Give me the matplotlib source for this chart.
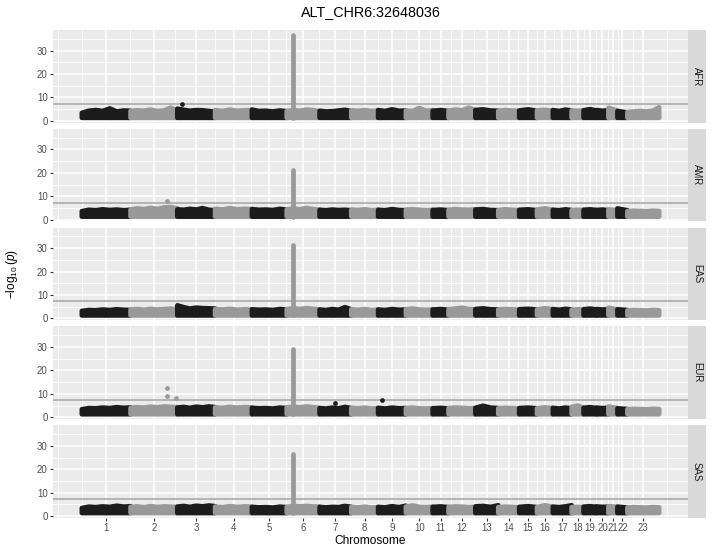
import matplotlib
matplotlib.use('Agg')
import matplotlib.pyplot as plt
import numpy as np

plt.rcParams['font.family'] = ['Liberation Sans', 'DejaVu Sans']
plt.rcParams['mathtext.fontset'] = 'custom'
plt.rcParams['mathtext.rm'] = 'Liberation Sans'
plt.rcParams['mathtext.it'] = 'Liberation Sans:italic'

# ---------------- data ----------------
title = "ALT_CHR6:32648036"
populations = ["AFR", "AMR", "EAS", "EUR", "SAS"]
chromosomes = [str(i) for i in range(1, 24)]
chrom_span_mb = [249, 239, 193, 188, 178, 168, 162, 137, 142, 137, 81, 137,
                 117, 107, 91, 81, 96, 61, 66, 61, 46, 51, 162]

lead_chrom = "6"
lead_pos_mb = 32.648036
lead_logp = [36.8, 21.0, 31.3, 29.1, 26.5]          # per population
gw_threshold = -np.log10(5e-8)
base_logp = 1.3                                     # lowest plotted -log10(p)

# upper envelope of the background -log10(p) cloud, per chromosome
afr_tops = [
    [3.4, 4.3, 4.6, 4.2, 5.3, 4.0, 4.4, 4.3], [4.2, 4.5, 4.3, 4.8, 4.2, 4.4, 5.6, 4.5],
    [5.2, 4.7, 4.3, 4.6, 4.5, 4.2, 3.9], [4.6, 4.2, 4.8, 4.3, 4.5, 4.6],
    [4.8, 4.2, 4.3, 4.0, 4.4, 4.1], [4.2, 4.6, 4.3, 4.8, 4.6, 4.0],
    [4.3, 4.0, 4.1, 4.4, 4.7, 4.2], [4.5, 4.3, 4.6, 4.2, 4.4],
    [4.6, 4.2, 4.9, 4.3, 4.4], [4.4, 4.2, 5.5, 4.3, 4.6], [4.3, 4.6, 4.2],
    [4.4, 4.8, 4.5, 5.6, 4.6], [4.6, 4.9, 4.4, 4.3], [4.2, 4.6, 4.4, 4.3],
    [4.4, 4.9, 4.3], [4.5, 4.7, 4.3], [4.6, 4.2, 4.8, 4.4], [4.4, 4.3, 4.5],
    [4.5, 5.0, 4.4], [4.6, 4.3, 4.5], [5.6, 4.4], [4.2, 3.6],
    [3.8, 4.0, 4.2, 4.0, 4.3, 5.8]]
amr_tops = [
    [3.6, 4.2, 4.0, 4.4, 4.1, 4.3, 4.0, 4.2], [4.3, 4.8, 4.5, 5.0, 4.6, 5.2, 5.4, 4.8],
    [4.4, 4.2, 4.6, 4.3, 4.9, 4.2, 4.0], [4.6, 4.3, 4.9, 4.4, 4.6, 4.5],
    [4.5, 4.2, 4.3, 4.1, 4.6, 4.2], [4.3, 4.8, 4.4, 5.0, 4.5, 4.2],
    [4.2, 4.0, 4.3, 4.1, 4.2, 4.0], [4.3, 4.1, 4.4, 4.0, 4.2],
    [4.2, 4.0, 4.5, 4.1, 4.0], [4.3, 4.4, 4.2, 4.0, 4.2], [4.1, 4.3, 4.0],
    [4.2, 4.5, 4.3, 4.2, 4.4], [4.3, 4.5, 4.1, 4.0], [4.1, 4.4, 4.2, 4.0],
    [4.2, 4.4, 4.0], [4.3, 4.8, 4.2], [4.2, 4.0, 4.4, 4.1], [4.0, 4.2, 4.1],
    [4.2, 4.4, 4.1], [4.1, 4.3, 4.0], [4.4, 4.0], [4.8, 4.0],
    [3.6, 3.8, 3.7, 3.6, 3.8, 3.7]]
eas_tops = [
    [3.2, 3.6, 3.5, 3.8, 3.6, 3.9, 3.7, 3.6], [3.8, 4.0, 3.7, 4.1, 3.8, 4.0, 4.2, 3.9],
    [5.6, 4.8, 4.2, 4.6, 4.4, 4.3, 4.2], [4.0, 3.8, 4.1, 3.7, 3.9, 3.8],
    [3.9, 3.7, 3.8, 3.6, 4.0, 3.8], [4.0, 4.3, 4.0, 4.4, 4.1, 3.8],
    [3.8, 3.6, 4.0, 3.7, 4.8, 3.9], [3.9, 3.7, 4.0, 3.6, 3.8],
    [3.8, 3.6, 4.0, 3.7, 3.8], [3.9, 4.2, 3.8, 3.7, 3.9], [3.8, 4.0, 3.7],
    [3.9, 4.2, 4.6, 4.0, 3.9], [4.0, 4.3, 3.9, 3.8], [3.8, 4.0, 3.9, 3.7],
    [3.9, 4.1, 3.8], [3.8, 4.4, 3.9], [4.0, 3.7, 4.1, 3.8], [3.7, 3.9, 3.8],
    [3.9, 4.2, 3.8], [4.0, 3.8, 3.9], [4.6, 3.8], [3.9, 3.6],
    [3.4, 3.6, 3.5, 3.4, 3.6, 3.5]]
eur_tops = [
    [3.4, 3.9, 3.8, 4.1, 3.9, 4.3, 4.0, 4.2], [4.0, 4.3, 4.1, 4.5, 4.2, 4.6, 4.4, 4.3],
    [4.1, 4.4, 4.0, 4.5, 4.2, 4.6, 4.3], [4.2, 4.0, 4.4, 4.1, 4.3, 4.2],
    [4.0, 3.8, 3.9, 3.7, 4.1, 3.9], [4.2, 4.5, 4.2, 4.6, 4.3, 4.0],
    [3.9, 3.7, 4.1, 3.8, 4.4, 3.9], [4.0, 3.8, 4.1, 3.7, 3.9],
    [4.0, 3.7, 4.1, 3.8, 3.9], [3.9, 4.1, 3.8, 3.7, 3.9], [3.8, 4.0, 3.7],
    [3.9, 4.1, 4.0, 3.8, 3.9], [4.0, 4.9, 4.1, 3.9], [3.8, 4.0, 3.9, 3.7],
    [3.9, 4.1, 3.8], [3.8, 4.2, 3.9], [4.0, 3.7, 4.1, 3.8], [4.4, 5.0, 4.0],
    [4.0, 4.3, 3.9], [4.1, 3.9, 4.0], [4.6, 3.9], [3.8, 3.5],
    [3.4, 3.6, 3.5, 3.4, 3.6, 3.5]]
sas_tops = [
    [3.4, 4.0, 3.8, 4.1, 3.9, 4.4, 4.0, 4.2], [3.9, 4.1, 3.8, 4.2, 3.9, 4.1, 4.0, 3.9],
    [4.0, 4.3, 3.9, 4.4, 4.1, 4.5, 4.2], [4.0, 3.8, 4.2, 3.9, 4.1, 4.0],
    [3.9, 3.7, 3.8, 3.6, 4.0, 3.8], [3.9, 4.4, 4.1, 4.3, 4.1, 4.0],
    [3.9, 3.7, 3.9, 3.8, 4.3, 3.9], [3.9, 3.7, 4.0, 3.6, 3.8],
    [3.9, 3.7, 4.2, 3.8, 4.4], [4.0, 4.5, 3.9, 3.8, 4.0], [3.9, 4.1, 3.8],
    [3.9, 4.1, 4.0, 3.8, 3.9], [4.1, 4.3, 3.9, 4.6], [3.8, 4.0, 3.9, 3.7],
    [3.9, 4.2, 3.8], [3.8, 4.6, 3.9], [4.0, 3.8, 4.1, 4.6], [3.8, 3.9, 3.8],
    [4.0, 4.2, 3.9], [4.1, 3.9, 4.0], [4.2, 3.9], [4.0, 3.6],
    [3.6, 3.8, 3.7, 3.6, 3.8, 3.7]]
tops_by_pop = [afr_tops, amr_tops, eas_tops, eur_tops, sas_tops]

# isolated points above the cloud
extra_pop = ["AFR", "AMR", "EUR", "EUR", "EUR", "EUR", "EUR"]
extra_chrom = ["3", "2", "2", "2", "2", "7", "9"]
extra_pos_mb = [22, 185, 185, 185, 232, 80, 18]
extra_logp = [7.4, 7.8, 12.3, 9.0, 8.3, 6.0, 7.5]

# ---------------- layout ----------------
W, H = 717, 553
fig = plt.figure(figsize=(W / 100, H / 100), dpi=100)
fig.patch.set_facecolor('white')

left_px, right_px, strip_w = 53, 688, 18
top0, panel_h, gap = 30, 92.5, 6.3

black = '#1c1c1c'
grey = '#999999'
order = sorted(chromosomes)                     # colour alternates in string order
chrom_color = [black if order.index(c) % 2 == 0 else grey for c in chromosomes]

spans = np.array(chrom_span_mb, dtype=float)
starts = np.concatenate([[0], np.cumsum(spans)[:-1]])
ends = starts + spans
total = ends[-1]
centers = (starts + ends) / 2
xlim = (-0.05 * total, 1.05 * total)
ylim = (-0.7, 38.8)

# ggplot-like minor breaks
bd = centers[1] - centers[0]
ext = np.concatenate([[centers[0] - bd], centers, [centers[-1] + bd]])
x_minor = list((ext[:-1] + ext[1:]) / 2) + [ext[0], ext[-1]]
y_major = [0, 10, 20, 30]
y_minor = [5, 15, 25, 35]

pt_diam = 3.4   # points
lead_i = chromosomes.index(lead_chrom)
lead_x = starts[lead_i] + lead_pos_mb

for p, pop in enumerate(populations):
    y_top = top0 + p * (panel_h + gap)
    ax = fig.add_axes([left_px / W, 1 - (y_top + panel_h) / H,
                       (right_px - left_px) / W, panel_h / H])
    ax.set_facecolor('#EBEBEB')
    ax.set_xlim(*xlim)
    ax.set_ylim(*ylim)
    for s in ax.spines.values():
        s.set_visible(False)
    for xm in x_minor:
        ax.axvline(xm, color='white', lw=0.55, zorder=0.5)
    for ym in y_minor:
        ax.axhline(ym, color='white', lw=0.55, zorder=0.5)
    for xm in centers:
        ax.axvline(xm, color='white', lw=1.1, zorder=0.6)
    for ym in y_major:
        ax.axhline(ym, color='white', lw=1.1, zorder=0.6)

    ax.axhline(gw_threshold, color='#a5a5a5', lw=1.1, zorder=1)

    tops = tops_by_pop[p]
    for i, c in enumerate(chromosomes):
        t = np.array(tops[i])
        n = len(t)
        xs = np.linspace(starts[i], ends[i], n)
        px = np.concatenate([[starts[i]], xs, [ends[i]]])
        py = np.concatenate([[base_logp], t, [base_logp]])
        ax.fill(px, py, color=chrom_color[i], lw=pt_diam, ec=chrom_color[i],
                joinstyle='round', zorder=2 + i * 0.01)
        if i == lead_i:
            ax.plot([lead_x, lead_x], [base_logp, lead_logp[p]], color=chrom_color[i],
                    lw=pt_diam, solid_capstyle='round', zorder=2 + i * 0.01)

    for ep, ec_, exx, ey in zip(extra_pop, extra_chrom, extra_pos_mb, extra_logp):
        if ep == pop:
            ci = chromosomes.index(ec_)
            ax.scatter([starts[ci] + exx], [ey], s=pt_diam ** 2, color=chrom_color[ci],
                       lw=0, zorder=3)

    ax.set_yticks(y_major)
    ax.set_yticklabels([str(v) for v in y_major])
    ax.tick_params(axis='both', length=2.2, width=0.8, color='#333333',
                   labelcolor='#4D4D4D', labelsize=6.9, pad=1.6)
    if p == len(populations) - 1:
        ax.set_xticks(centers)
        ax.set_xticklabels(chromosomes)
    else:
        ax.set_xticks(centers)
        ax.tick_params(axis='x', length=0, labelbottom=False)

    # facet strip
    sax = fig.add_axes([right_px / W, 1 - (y_top + panel_h) / H, strip_w / W, panel_h / H])
    sax.set_facecolor('#D9D9D9')
    sax.set_xticks([]); sax.set_yticks([])
    for s in sax.spines.values():
        s.set_visible(False)
    sax.text(0.5, 0.5, pop, rotation=-90, ha='center', va='center',
             fontsize=6.9, color='#1A1A1A', transform=sax.transAxes)

panel_mid_x = (left_px + right_px) / 2
fig.text(panel_mid_x / W, 1 - 12 / H, title, ha='center', va='center', fontsize=10.4)
fig.text(panel_mid_x / W, 1 - 541 / H, "Chromosome", ha='center', va='center', fontsize=8.6)
bottom_px = top0 + 5 * panel_h + 4 * gap
fig.text(12 / W, 1 - ((top0 + bottom_px) / 2) / H, r'$-\log_{10}(\mathit{p})$',
         rotation=90, ha='center', va='center', fontsize=8.6)

fig.savefig('out.png', dpi=100)
